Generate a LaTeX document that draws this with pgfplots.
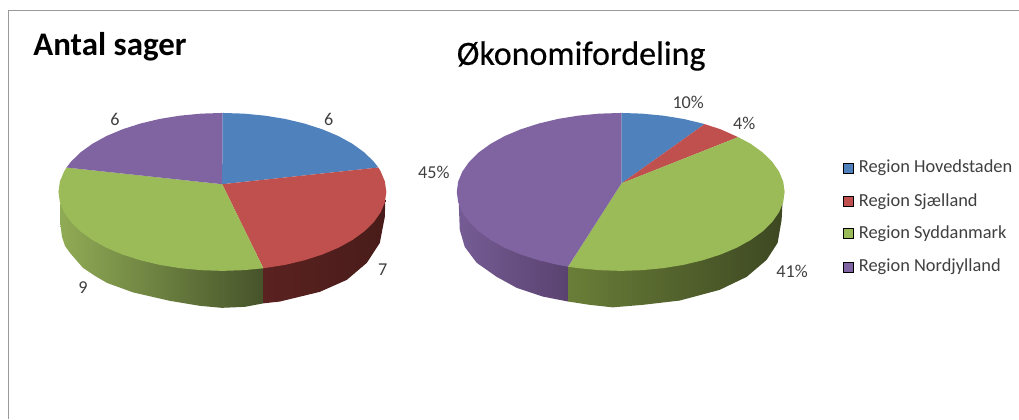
\documentclass[border=0pt]{standalone}
\usepackage{pgfplots}
\pgfplotsset{compat=1.18}
\usepackage{fontspec}
\setmainfont{Carlito}
\newfontfamily\titlefont[FakeBold=0.4]{Carlito}
\definecolor{pieblue}{HTML}{4F81BD}
\definecolor{piered}{HTML}{C0504D}
\definecolor{piegreen}{HTML}{9BBB59}
\definecolor{piepurple}{HTML}{8064A2}
\definecolor{labelgray}{HTML}{404040}
\definecolor{sideGreenL}{HTML}{90AB55}
\definecolor{sideGreenR}{HTML}{46532A}
\definecolor{sideRedL}{HTML}{5A2220}
\definecolor{sideRedR}{HTML}{481C1A}
\definecolor{sideGreenBL}{HTML}{6A7E38}
\definecolor{sideGreenBM}{HTML}{465424}
\definecolor{sideGreenBR}{HTML}{3D4822}
\definecolor{sidePurpleL}{HTML}{755C94}
\definecolor{sidePurpleR}{HTML}{5A4270}
\begin{document}
\begin{tikzpicture}
\begin{axis}[
  scale only axis, width=764.25pt, height=314.25pt,
  xmin=0, xmax=1019, ymin=0, ymax=419, y dir=reverse,
  hide axis, clip=false,
]
% page background and frame
\addplot[fill=white, draw=none] coordinates {(0,0)(1019,0)(1019,419)(0,419)};
\addplot[color=gray!80, line width=0.75pt] coordinates {(8.5,419)(8.5,10.5)(1019,10.5)};

% left pie, sides
\addplot[left color=sideGreenL, right color=sideGreenR, draw=none] coordinates {
  (263.5,268)(263.5,303.5)(245,307)(222,308)(200,306)(170,301)(133,292.5)(107,283)(95,276)
  (83,268)(70,253)(65,246)(62,237)(60.5,225)(60.5,204)};
\addplot[left color=sideRedL, right color=sideRedR, draw=none] coordinates {
  (263.5,268)(385.5,200)(385,217)(380,243)(367,263)(347,280)(320,292)(280,301.7)(263.5,303.5)};

% left pie, top: Antal sager
\addplot[fill=pieblue, draw=none] coordinates {
  (222.3,184.3)(222.5,113)(243.9,113.7)(264.9,115.7)(285.3,119)(304.5,123.6)(322.3,129.3)
  (338.5,136.1)(352.6,143.9)(364.5,152.5)(374,161.8)(378.5,167.6)};
\addplot[fill=piered, draw=none] coordinates {
  (222.3,184.3)(378.5,167.6)(380.9,171.6)(385.1,181.7)(386.5,192)(385.1,202.3)(380.9,212.4)
  (374,222.2)(364.5,231.5)(352.6,240.1)(338.5,247.9)(322.3,254.7)(304.5,260.4)(285.3,265)
  (263.5,268.4)};
\addplot[fill=piegreen, draw=none] coordinates {
  (222.3,184.3)(263.5,268.4)(243.9,270.3)(222.5,271)(201.1,270.3)(180.1,268.3)(159.7,265)
  (140.5,260.4)(122.7,254.7)(106.5,247.9)(92.4,240.1)(80.5,231.5)(71,222.2)(64.1,212.4)
  (59.9,202.3)(58.5,192)(59.9,181.7)(64.1,171.6)(66.5,167.6)};
\addplot[fill=piepurple, draw=none] coordinates {
  (222.3,184.3)(66.5,167.6)(71,161.8)(80.5,152.5)(92.4,143.9)(106.5,136.1)(122.7,129.3)
  (140.5,123.6)(159.7,119)(180.1,115.7)(201.1,113.7)(222.5,113)};

% right pie, sides
\addplot[left color=sideGreenBL, middle color=sideGreenBM, right color=sideGreenBR, draw=none] coordinates {
  (783,200)(782,220)(778,243)(767,260)(747,277)(720,290)(680,300.7)(643,305)(613,307.5)
  (590,305)(568.5,301.7)(568.5,266.8)};
\addplot[left color=sidePurpleL, right color=sidePurpleR, draw=none] coordinates {
  (568.5,266.8)(568.5,301.7)(543,296.7)(517,288)(497,277)(477,263)(465,247)(460,230)(459,204)};

% right pie, top: Okonomifordeling
\addplot[fill=pieblue, draw=none] coordinates {
  (621.7,183.5)(621.7,113)(642.4,113.7)(663.4,115.7)(683.8,119)(703,123.6)(705,124.2)};
\addplot[fill=piered, draw=none] coordinates {
  (621.7,183.5)(705,124.2)(720.8,129.3)(738.5,137.2)};
\addplot[fill=piegreen, draw=none] coordinates {
  (621.7,183.5)(738.5,137.2)(751.1,143.9)(763,152.5)(772.5,161.8)(779.4,171.6)(783.6,181.7)
  (785,192)(783.6,202.3)(779.4,212.4)(772.5,222.2)(763,231.5)(751.1,240.1)(737,247.9)
  (720.8,254.7)(703,260.4)(683.8,265)(663.4,268.3)(642.4,270.3)(621,271)(599.6,270.3)
  (578.6,268.3)(568.3,266.8)};
\addplot[fill=piepurple, draw=none] coordinates {
  (621.7,183.5)(568.3,266.8)(558.2,265)(539,260.4)(521.2,254.7)(505,247.9)(490.9,240.1)
  (479,231.5)(469.5,222.2)(462.6,212.4)(458.4,202.3)(457,192)(458.4,181.7)(462.6,171.6)
  (469.5,161.8)(479,152.5)(490.9,143.9)(505,136.1)(521.2,129.3)(539,123.6)(558.2,119)
  (578.6,115.7)(599.6,113.7)(621.7,113)};

% legend keys
\addplot[only marks, mark=square*, mark size=3.7pt, mark options={fill=pieblue, draw=none}] coordinates {(849,168)};
\addplot[only marks, mark=square*, mark size=3.7pt, mark options={fill=piered, draw=none}] coordinates {(849,201.5)};
\addplot[only marks, mark=square*, mark size=3.7pt, mark options={fill=piegreen, draw=none}] coordinates {(849,233.5)};
\addplot[only marks, mark=square*, mark size=3.7pt, mark options={fill=piepurple, draw=none}] coordinates {(849,267)};

% titles
\node[font=\fontsize{24.7}{24.7}\selectfont\bfseries, anchor=center] at (axis cs:110,47) {Antal sager};
\node[font=\fontsize{25.5}{25.5}\selectfont\titlefont, anchor=center] at (axis cs:581.5,56) {Økonomifordeling};

% legend text
\begin{scope}[every node/.style={font=\fontsize{13.8}{13.8}\selectfont, text=labelgray, anchor=west, inner sep=0pt}]
\node at (axis cs:859,168) {Region Hovedstaden};
\node at (axis cs:859,201.5) {Region Sjælland};
\node at (axis cs:859,233.5) {Region Syddanmark};
\node at (axis cs:859,267) {Region Nordjylland};
\end{scope}

% data labels
\begin{scope}[every node/.style={font=\fontsize{13.6}{13.6}\selectfont, text=labelgray, anchor=center}]
\node at (axis cs:329,119.5) {6};
\node at (axis cs:383,270) {7};
\node at (axis cs:83,288) {9};
\node at (axis cs:115,119.5) {6};
\node at (axis cs:688.5,102.5) {10\%};
\node at (axis cs:744.5,123.5) {4\%};
\node at (axis cs:792.5,271.5) {41\%};
\node at (axis cs:434,172.5) {45\%};
\end{scope}
\end{axis}
\end{tikzpicture}
\end{document}
